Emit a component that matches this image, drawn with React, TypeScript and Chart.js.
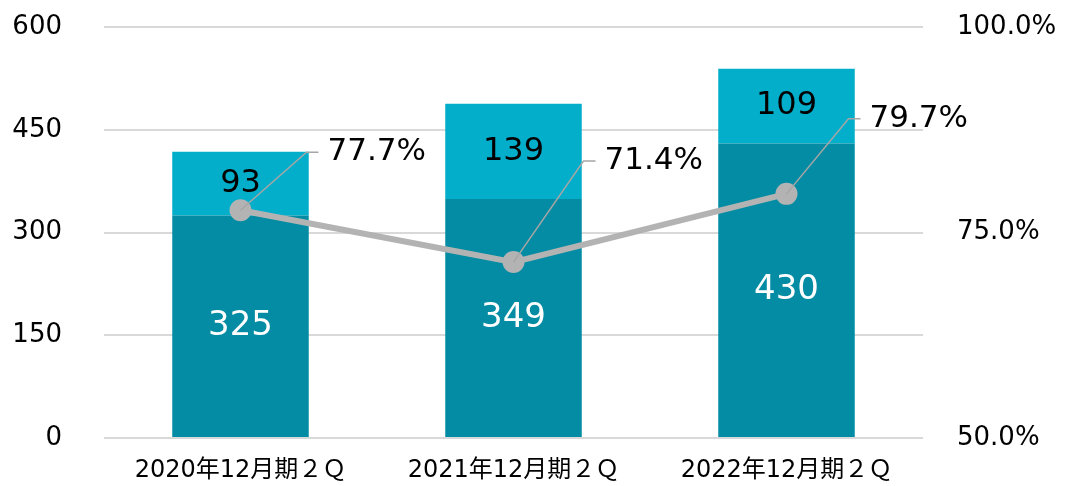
import React, { useEffect, useRef } from "react";
import { Chart, registerables } from "chart.js";

Chart.register(...registerables);

const categories = ["2020年12月期２Ｑ", "2021年12月期２Ｑ", "2022年12月期２Ｑ"];
const baseValues = [325, 349, 430];
const topValues = [93, 139, 109];
const ratioValues = [77.7, 71.4, 79.7];
const leftTicks = [0, 150, 300, 450, 600];
const rightTicks = [50, 75, 100];
// leader-line elbow offsets (px) for the ratio labels
const labelOffsets = [
  [66, -58],
  [70, -101],
  [62, -75],
];

const FONT = "'DejaVu Sans', 'Noto Sans CJK JP', sans-serif";
const DARK = "#038ca3";
const LIGHT = "#03aeca";
const GRAY = "#b3b3b3";

const labelPlugin = {
  id: "labelPlugin",
  afterDatasetsDraw(chart: any) {
    const ctx = chart.ctx;
    ctx.save();
    [0, 1].forEach((di) => {
      const meta = chart.getDatasetMeta(di);
      const data = chart.data.datasets[di].data;
      meta.data.forEach((el: any, i: number) => {
        const { x, y, base } = el.getProps(["x", "y", "base"], true);
        ctx.font = di === 0 ? `34px ${FONT}` : `32px ${FONT}`;
        ctx.fillStyle = di === 0 ? "#ffffff" : "#000000";
        ctx.textAlign = "center";
        ctx.textBaseline = "middle";
        ctx.fillText(String(data[i]), x, (y + base) / 2);
      });
    });
    const lmeta = chart.getDatasetMeta(2);
    lmeta.data.forEach((el: any, i: number) => {
      const { x, y } = el.getProps(["x", "y"], true);
      const [dx, dy] = labelOffsets[i];
      const ex = x + dx;
      const ey = y + dy;
      ctx.strokeStyle = "#a6a6a6";
      ctx.lineWidth = 1.5;
      ctx.beginPath();
      ctx.moveTo(x, y);
      ctx.lineTo(ex, ey);
      ctx.lineTo(ex + 12, ey);
      ctx.stroke();
      ctx.font = `31px ${FONT}`;
      ctx.fillStyle = "#000000";
      ctx.textAlign = "left";
      ctx.textBaseline = "middle";
      ctx.fillText(ratioValues[i].toFixed(1) + "%", ex + 21, ey);
    });
    ctx.restore();
  },
};

export default function App() {
  const ref = useRef<HTMLCanvasElement>(null);
  useEffect(() => {
    document.body.style.margin = "0";
    const chart = new Chart(ref.current!, {
      type: "bar",
      data: {
        labels: categories,
        datasets: [
          {
            type: "bar",
            data: baseValues,
            backgroundColor: DARK,
            yAxisID: "y",
            stack: "s",
            order: 2,
            categoryPercentage: 1,
            barPercentage: 0.5,
          },
          {
            type: "bar",
            data: topValues,
            backgroundColor: LIGHT,
            yAxisID: "y",
            stack: "s",
            order: 2,
            categoryPercentage: 1,
            barPercentage: 0.5,
          },
          {
            type: "line",
            data: ratioValues,
            borderColor: GRAY,
            backgroundColor: GRAY,
            borderWidth: 6,
            pointRadius: 11,
            pointBorderWidth: 0,
            pointBackgroundColor: GRAY,
            yAxisID: "y1",
            order: 1,
          } as any,
        ],
      },
      options: {
        animation: false,
        responsive: false,
        maintainAspectRatio: false,
        layout: { padding: { top: 27, left: 0, right: 0, bottom: 0 } },
        plugins: { legend: { display: false }, tooltip: { enabled: false } },
        scales: {
          x: {
            stacked: true,
            grid: { display: false, drawTicks: false },
            border: { display: false },
            ticks: { font: { family: FONT, size: 24 }, color: "#000", padding: 18 },
            afterFit: (s: any) => {
              s.height = 48;
              s.paddingLeft = 0;
              s.paddingRight = 0;
            },
          },
          y: {
            position: "left",
            stacked: true,
            min: 0,
            max: 600,
            afterBuildTicks: (s: any) => {
              s.ticks = leftTicks.map((v) => ({ value: v }));
            },
            grid: { color: "#d9d9d9", lineWidth: 2, drawTicks: false },
            border: { display: false },
            ticks: { font: { family: FONT, size: 26 }, color: "#000", padding: 42 },
            afterFit: (s: any) => {
              s.width = 104;
              s.paddingTop = 0;
              s.paddingBottom = 0;
            },
          },
          y1: {
            position: "right",
            min: 50,
            max: 100,
            afterBuildTicks: (s: any) => {
              s.ticks = rightTicks.map((v) => ({ value: v }));
            },
            grid: { display: false, drawTicks: false },
            border: { display: false },
            ticks: {
              font: { family: FONT, size: 26 },
              color: "#000",
              padding: 34,
              callback: (v: any) => Number(v).toFixed(1) + "%",
            },
            afterFit: (s: any) => {
              s.width = 142;
              s.paddingTop = 0;
              s.paddingBottom = 0;
            },
          },
        },
      },
      plugins: [labelPlugin],
    });
    return () => chart.destroy();
  }, []);
  return <canvas ref={ref} width={1065} height={486} style={{ display: "block" }} />;
}
